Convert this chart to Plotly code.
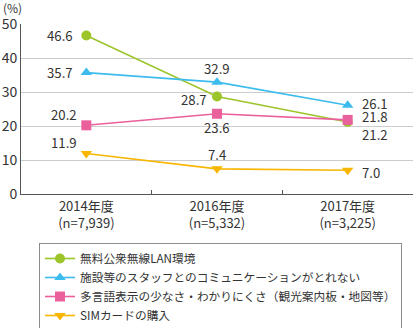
import plotly.graph_objects as go

categories = ["2014年度<br>(n=7,939)", "2016年度<br>(n=5,332)", "2017年度<br>(n=3,225)"]
series_names = [
    "無料公衆無線LAN環境",
    "施設等のスタッフとのコミュニケーションがとれない",
    "多言語表示の少なさ・わかりにくさ（観光案内板・地図等）",
    "SIMカードの購入",
]
wifi = [46.6, 28.7, 21.2]
staff = [35.7, 32.9, 26.1]
signage = [20.2, 23.6, 21.8]
sim = [11.9, 7.4, 7.0]
y_ticks = [0, 10, 20, 30, 40, 50]

colors = ["#9CC52A", "#3CBCEE", "#EA609C", "#F8B600"]
symbols = ["circle", "triangle-up", "square", "triangle-down"]
# label placement per point: (xanchor, xshift, yshift)
label_style = [
    [("right", -11, 0), ("right", -8, -3), ("left", 12, -13)],
    [("right", -11, 0), ("center", 0, 14), ("left", 12, 2)],
    [("right", -7, 11), ("center", 0, -14), ("left", 12, 3)],
    [("right", -7, 11), ("center", 0, 14), ("left", 12, -2)],
]

FONT = "Noto Sans CJK JP"
fig = go.Figure()
annotations = []
for name, vals, c, s, st in zip(series_names, [wifi, staff, signage, sim], colors, symbols, label_style):
    fig.add_trace(go.Scatter(
        x=categories, y=vals, name=name, mode="lines+markers",
        line=dict(color=c, width=1.6),
        marker=dict(color=c, size=10, symbol=s),
        cliponaxis=False,
    ))
    for cat, v, (xa, xs, ys) in zip(categories, vals, st):
        annotations.append(dict(
            x=cat, y=v, xref="x", yref="y", text=f"{v:.1f}", showarrow=False,
            xanchor=xa, yanchor="middle", xshift=xs, yshift=ys,
            font=dict(family=FONT, size=13.2, color="#333333"),
        ))

annotations.append(dict(text="(%)", x=(1 - 21) / 392, y=(194 - 8) / 170, xref="paper", yref="paper",
                        xanchor="left", yanchor="middle", showarrow=False,
                        font=dict(family=FONT, size=12, color="#333333")))

fig.update_layout(
    width=416, height=328,
    margin=dict(l=21, r=3, t=24, b=134, autoexpand=False),
    paper_bgcolor="white", plot_bgcolor="white",
    font=dict(family=FONT, size=13, color="#333333"),
    showlegend=True,
    legend=dict(
        xref="container", yref="container",
        x=39 / 416, y=1 - 243 / 328, xanchor="left", yanchor="top",
        bordercolor="#8c8c8c", borderwidth=1,
        font=dict(family=FONT, size=11.7, color="#333333"),
        tracegroupgap=0, itemwidth=30,
    ),
    annotations=annotations,
)
fig.update_xaxes(
    type="category", range=[-0.5, 2.5], showgrid=False,
    showline=True, linecolor="#555555", linewidth=1,
    tickson="boundaries", ticks="inside", ticklen=4, tickcolor="#555555",
    tickfont=dict(family=FONT, size=13, color="#333333"),
)
fig.update_yaxes(
    range=[0, 50], tickvals=y_ticks, showgrid=True, gridcolor="#cccccc", gridwidth=1,
    zeroline=False, showline=True, linecolor="#555555", linewidth=1,
    ticks="", tickfont=dict(family=FONT, size=14, color="#333333"),
)
fig.write_html("out.html")
